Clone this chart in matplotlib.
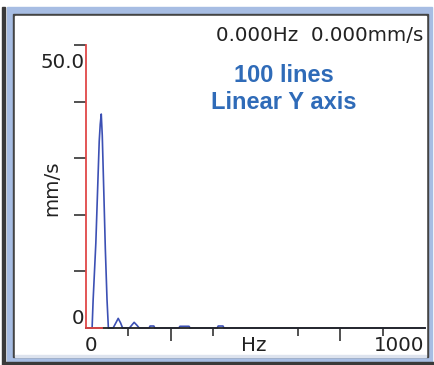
import matplotlib
matplotlib.use("Agg")
import matplotlib.pyplot as plt
from matplotlib.patches import Rectangle

# spectrum (Hz, mm/s)
freq = [0, 18, 21, 29, 34, 39, 42, 45, 48, 53, 57, 62, 66,
        80, 88, 95, 102, 108, 128, 135, 142, 150, 157,
        186, 189, 200, 203, 274, 277, 304, 307, 387, 390, 404, 407, 1000]
amp = [0, 0, 4.9, 15.0, 24.0, 33.0, 36.0, 37.8, 34.0, 23.0, 14.0, 5.0, 0,
       0, 0.9, 1.7, 0.9, 0, 0, 0.5, 1.0, 0.5, 0,
       0, 0.35, 0.35, 0, 0, 0.3, 0.3, 0, 0, 0.35, 0.35, 0, 0]

cursor_hz = 48          # red marker on the x axis
y_ticks = [10, 20, 30, 40, 50]
x_minor = [125, 375, 625, 875]
x_major = [250, 750]

W, H = 434, 365
fig = plt.figure(figsize=(W / 100, H / 100), dpi=100)
fig.patch.set_facecolor("white")


def box(x0, y0, x1, y1, color):
    # rectangle in image pixel coords (origin top-left)
    fig.patches.append(Rectangle((x0 / W, 1 - y1 / H), (x1 - x0) / W, (y1 - y0) / H,
                                 transform=fig.transFigure, color=color, zorder=0))


def px(x, y):
    return x / W, 1 - y / H


# window frame
box(7, 7, 432, 363, "#a7bde3")
box(2, 7, 5, 365, "#3a3a3a")
box(5, 362, 434, 365, "#3a3a3a")
box(13, 14, 428, 357, "#444444")
box(15, 16, 426, 355, "white")
box(15, 355, 426, 357, "#dde3ee")

ax = fig.add_axes([86 / W, 1 - 328 / H, 339 / W, 283 / H])
ax.set_zorder(2)
ax.set_facecolor("none")
ax.plot(freq, amp, color="#3c50b4", lw=1.2, zorder=2, clip_on=False)
ax.plot([0, cursor_hz], [0, 0], color="#e04848", lw=1.3, zorder=4, clip_on=False)

ax.set_xlim(0, 1000)
ax.set_ylim(0, 50)
for s in ["top", "right"]:
    ax.spines[s].set_visible(False)
ax.spines["left"].set_color("#e04848")
ax.spines["left"].set_linewidth(1.3)
ax.spines["bottom"].set_color("#222222")
ax.spines["bottom"].set_linewidth(1.3)

ax.set_yticks(y_ticks)
ax.set_xticks(x_major)
ax.set_xticks(x_minor, minor=True)
ax.tick_params(axis="y", direction="out", length=9, width=1.1, color="#222222",
               labelleft=False)
ax.tick_params(axis="x", which="major", direction="out", length=9.5, width=1.1,
               color="#222222", labelbottom=False)
ax.tick_params(axis="x", which="minor", direction="out", length=6, width=1.1,
               color="#222222", labelbottom=False)

tc = "#222222"
fs = 14.3
fig.text(*px(423, 41), "0.000Hz  0.000mm/s", ha="right", va="baseline", fontsize=fs, color=tc)
fig.text(*px(85, 68), "50.0", ha="right", va="baseline", fontsize=fs, color=tc)
fig.text(*px(84, 324), "0", ha="right", va="baseline", fontsize=fs, color=tc)
fig.text(*px(85, 351), "0", ha="left", va="baseline", fontsize=fs, color=tc)
fig.text(*px(254, 351), "Hz", ha="center", va="baseline", fontsize=fs, color=tc)
fig.text(*px(424, 351), "1000", ha="right", va="baseline", fontsize=fs, color=tc)
fig.text(*px(52, 188), "mm/s", ha="center", va="center", rotation=90, fontsize=fs, color=tc)

fig.text(*px(284, 82), "100 lines", ha="center", va="baseline", fontsize=17,
         fontweight="bold", family="Liberation Sans", color="#2f6bb8")
fig.text(*px(284, 109), "Linear Y axis", ha="center", va="baseline", fontsize=17,
         fontweight="bold", family="Liberation Sans", color="#2f6bb8")

fig.savefig("out.png", dpi=100)
